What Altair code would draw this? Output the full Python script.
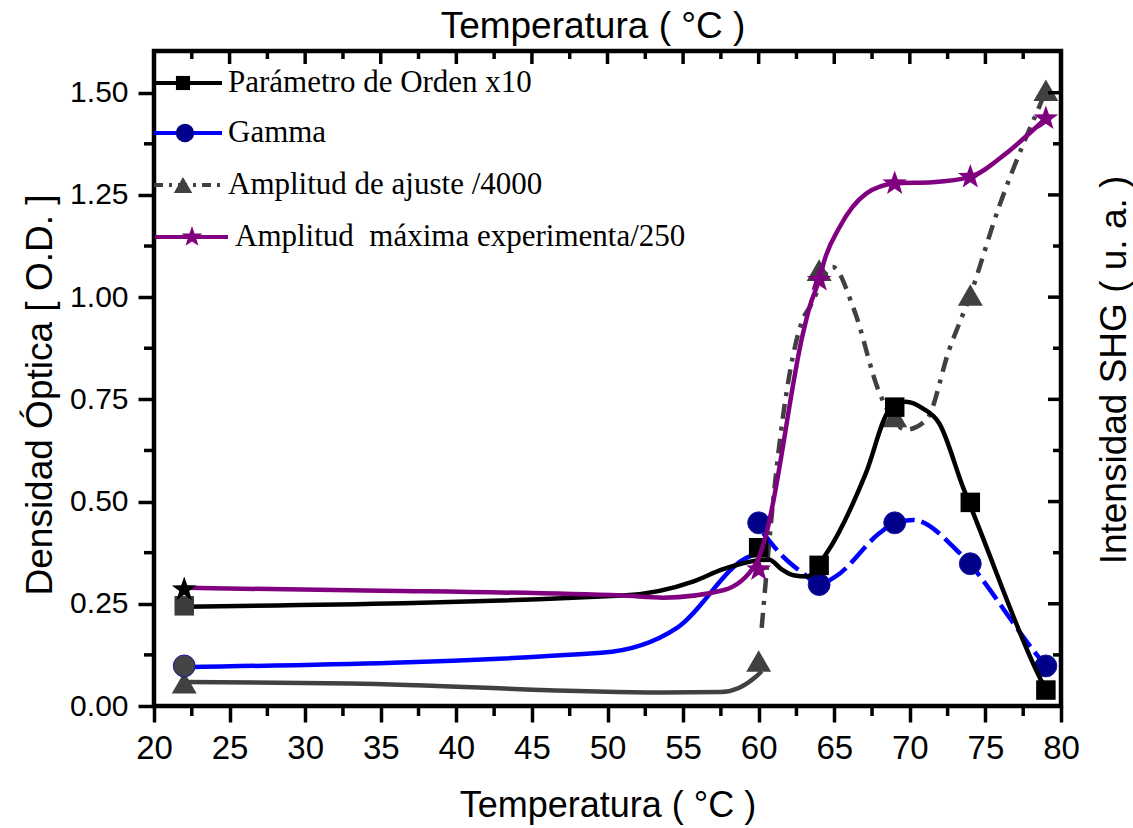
import altair as alt
import pandas as pd

# ---------------- data ----------------
temp = [22, 60, 64, 69, 74, 79]
orden = [0.245, 0.387, 0.344, 0.731, 0.498, 0.039]      # Parámetro de Orden x10
gamma = [0.098, 0.448, 0.297, 0.448, 0.348, 0.098]      # Gamma
ajuste = [0.057, 0.110, 1.066, 0.708, 1.005, 1.506]     # Amplitud de ajuste /4000
maxima = [0.285, 0.334, 1.042, 1.278, 1.294, 1.437]     # Amplitud máxima experimenta/250

# drawn line paths (vertices)
orden_path_x = [22, 51.0, 55.7, 57.6, 59.9, 60.7, 61.5, 62.3, 63.2, 64.5, 67.1, 68.65, 69.75, 70.85, 71.95, 73.5, 74.5, 78.55, 79]
orden_path_y = [0.243, 0.270, 0.305, 0.334, 0.356, 0.358, 0.335, 0.320, 0.317, 0.374, 0.570, 0.724, 0.744, 0.728, 0.691, 0.537, 0.443, 0.073, 0.040]

gamma_left_x = [22, 49.6, 54.6, 59.4, 60.3]
gamma_left_y = [0.095, 0.130, 0.191, 0.366, 0.374]
gamma_right_x = [60.3, 61.6, 63.2, 63.9, 65.1, 68.0, 69.0, 70.2, 73.3, 74.0, 74.8, 78.3, 79]
gamma_right_y = [0.423, 0.366, 0.317, 0.297, 0.317, 0.423, 0.448, 0.455, 0.374, 0.348, 0.309, 0.130, 0.098]

ajuste_left_x = [22, 33.0, 53.7, 57.5, 59.86, 60.2]
ajuste_left_y = [0.059, 0.055, 0.033, 0.034, 0.073, 0.085]
ajuste_right_x = [60.2, 61.2, 62.9, 63.4, 64.9, 66.3, 68.0, 69.76, 71.1, 72.6, 74.0, 75.9, 77.6, 78.55, 79]
ajuste_right_y = [0.191, 0.586, 0.944, 0.977, 1.074, 0.970, 0.765, 0.676, 0.700, 0.871, 1.005, 1.221, 1.383, 1.465, 1.506]

maxima_path_x = [22, 33, 51, 53.7, 57.65, 59.85, 60.4, 62.93, 63.37, 64.0, 64.35, 65.35, 67.11, 69.0, 71.5, 74.0, 76.35, 78.1, 79]
maxima_path_y = [0.289, 0.283, 0.270, 0.265, 0.283, 0.350, 0.407, 0.911, 0.976, 1.042, 1.090, 1.171, 1.253, 1.278, 1.281, 1.294, 1.351, 1.407, 1.437]

legend_labels = ["Parámetro de Orden x10", "Gamma", "Amplitud de ajuste /4000",
                 "Amplitud\u00a0 máxima experimenta/250"]
x_title = "Temperatura ( °C )"
y_title = "Densidad Óptica [ O.D. ]"
y2_title = "Intensidad SHG ( u. a. )"

x_major = [20, 25, 30, 35, 40, 45, 50, 55, 60, 65, 70, 75, 80]
x_minor = [22.5, 27.5, 32.5, 37.5, 42.5, 47.5, 52.5, 57.5, 62.5, 67.5, 72.5, 77.5]
y_major = [0.0, 0.25, 0.5, 0.75, 1.0, 1.25, 1.5]
y_minor = [0.125, 0.375, 0.625, 0.875, 1.125, 1.375]

# ---------------- styling ----------------
W, H = 907, 655
SANS = "Liberation Sans"
SERIF = "Liberation Serif"
BLACK = "#000000"
BLUE = "#0000FF"
NAVY = "#00008B"
GRAY = "#404040"
PURPLE = "#800080"
STAR = ("M0,-1L0.235,-0.324L0.951,-0.309L0.38,0.124L0.588,0.809L0,0.4"
        "L-0.588,0.809L-0.38,0.124L-0.951,-0.309L-0.235,-0.324Z")

xs = alt.Scale(domain=[20, 80], nice=False, zero=False)
ys = alt.Scale(domain=[0, 1.602], nice=False, zero=False)

xaxis = alt.Axis(values=x_major, tickSize=16, tickWidth=3.5, tickColor=BLACK, domain=False,
                 grid=False, labelFont=SANS, labelFontSize=33, labelPadding=10, labelColor=BLACK,
                 labelFlush=False, labelOverlap=False, title=None, orient="bottom")
yaxis = alt.Axis(values=y_major, format=".2f", tickSize=16, tickWidth=3.5, tickColor=BLACK,
                 domain=False, grid=False, labelFont=SANS, labelFontSize=30, labelPadding=10,
                 labelColor=BLACK, labelFlush=False, labelOverlap=False, title=None, orient="left")

X = alt.X("x:Q", scale=xs, axis=xaxis)
Y = alt.Y("y:Q", scale=ys, axis=yaxis)


def path_df(xv, yv):
    return pd.DataFrame({"x": xv, "y": yv})


def line(xv, yv, color, dash=None, width=4.5):
    kw = dict(interpolate="monotone", color=color, strokeWidth=width)
    if dash:
        kw["strokeDash"] = dash
    return alt.Chart(path_df(xv, yv)).mark_line(**kw).encode(x=X, y=Y)


def markers(yv, shape, fill, first_fill, size, stroke=None):
    df = pd.DataFrame({"x": temp, "y": yv, "fill": [first_fill] + [fill] * (len(temp) - 1)})
    kw = dict(shape=shape, filled=True, size=size, opacity=1)
    if stroke:
        kw["stroke"] = stroke
        kw["strokeWidth"] = 1
    return alt.Chart(df).mark_point(**kw).encode(x=X, y=Y, color=alt.Color("fill:N", scale=None))


layers = []
layers.append(line(ajuste_left_x, ajuste_left_y, GRAY))
layers.append(line(ajuste_right_x, ajuste_right_y, GRAY, dash=[15, 8, 4, 8]))
layers.append(markers(ajuste, "triangle-up", GRAY, GRAY, 620))
layers.append(line(gamma_left_x, gamma_left_y, BLUE))
layers.append(line(gamma_right_x, gamma_right_y, BLUE, dash=[22, 7]))
layers.append(markers(gamma, "circle", NAVY, "#454545", 480, stroke="#1a1aa0"))
layers.append(line(orden_path_x, orden_path_y, BLACK))
layers.append(markers(orden, "square", BLACK, "#3c3c3c", 380))
layers.append(line(maxima_path_x, maxima_path_y, PURPLE))
layers.append(markers(maxima, STAR, PURPLE, BLACK, 680))

# minor / mirrored ticks
tick_kw = dict(color=BLACK, strokeWidth=3.5)
layers.append(alt.Chart(pd.DataFrame({"y": y_minor})).mark_rule(**tick_kw).encode(
    y=Y, x=alt.value(-10), x2=alt.value(0)))
layers.append(alt.Chart(pd.DataFrame({"x": x_minor})).mark_rule(**tick_kw).encode(
    x=X, y=alt.value(H), y2=alt.value(H + 10)))
layers.append(alt.Chart(pd.DataFrame({"x": x_major})).mark_rule(**tick_kw).encode(
    x=X, y=alt.value(0), y2=alt.value(13)))
layers.append(alt.Chart(pd.DataFrame({"x": x_minor})).mark_rule(**tick_kw).encode(
    x=X, y=alt.value(0), y2=alt.value(8)))
layers.append(alt.Chart(pd.DataFrame({"y": y_major})).mark_rule(**tick_kw).encode(
    y=Y, x=alt.value(W), x2=alt.value(W - 13)))
layers.append(alt.Chart(pd.DataFrame({"y": y_minor})).mark_rule(**tick_kw).encode(
    y=Y, x=alt.value(W), x2=alt.value(W - 8)))

# titles
def title_text(txt, px, py, angle=0, baseline="alphabetic", size=37):
    kw = dict(font=SANS, fontSize=size, color=BLACK, align="center", baseline=baseline)
    if angle:
        kw["angle"] = angle
    return alt.Chart(pd.DataFrame({"label": [txt]})).mark_text(**kw).encode(
        text="label:N", x=alt.value(px), y=alt.value(py))

layers.append(title_text(x_title, 439, -13))
layers.append(title_text(x_title, 454, 766, size=36))
layers.append(title_text(y_title, -113, 344, angle=270, baseline="middle"))
layers.append(title_text(y2_title, 961, 319, angle=270, baseline="middle"))

# legend (inside the plot, top-left)
one = pd.DataFrame({"t": [0]})
leg_rows = [32, 82, 134, 186]
leg_specs = [
    dict(color=BLACK, dash=None, shape="square", fill=BLACK, size=200, x0=0, x1=68, mx=29, tx=74),
    dict(color=BLUE, dash=None, shape="circle", fill=NAVY, size=340, x0=0, x1=68, mx=31, tx=74),
    dict(color=GRAY, dash=[9, 6, 3, 6], shape="triangle-up", fill=GRAY, size=340, x0=0, x1=66, mx=29, tx=74),
    dict(color=PURPLE, dash=None, shape=STAR, fill=PURPLE, size=480, x0=1, x1=74, mx=38, tx=81),
]
for lab, yy, sp in zip(legend_labels, leg_rows, leg_specs):
    rkw = dict(color=sp["color"], strokeWidth=4)
    if sp["dash"]:
        rkw["strokeDash"] = sp["dash"]
    layers.append(alt.Chart(one).mark_rule(**rkw).encode(
        x=alt.value(sp["x0"]), x2=alt.value(sp["x1"]), y=alt.value(yy)))
    layers.append(alt.Chart(one).mark_point(shape=sp["shape"], filled=True, size=sp["size"],
                                            color=sp["fill"], opacity=1).encode(
        x=alt.value(sp["mx"]), y=alt.value(yy)))
    layers.append(alt.Chart(pd.DataFrame({"label": [lab]})).mark_text(
        font=SERIF, fontSize=31, color=BLACK, align="left", baseline="middle").encode(
        text="label:N", x=alt.value(sp["tx"]), y=alt.value(yy)))

chart = alt.layer(*layers).properties(
    width=W, height=H,
    autosize=alt.AutoSizeParams(type="none"),
    padding={"left": 154, "top": 51, "right": 1133 - 154 - W, "bottom": 828 - 51 - H},
    background="white",
).configure_view(stroke=BLACK, strokeWidth=4.5)

chart.save("out.html", embed_options={"renderer": "svg", "actions": False})
